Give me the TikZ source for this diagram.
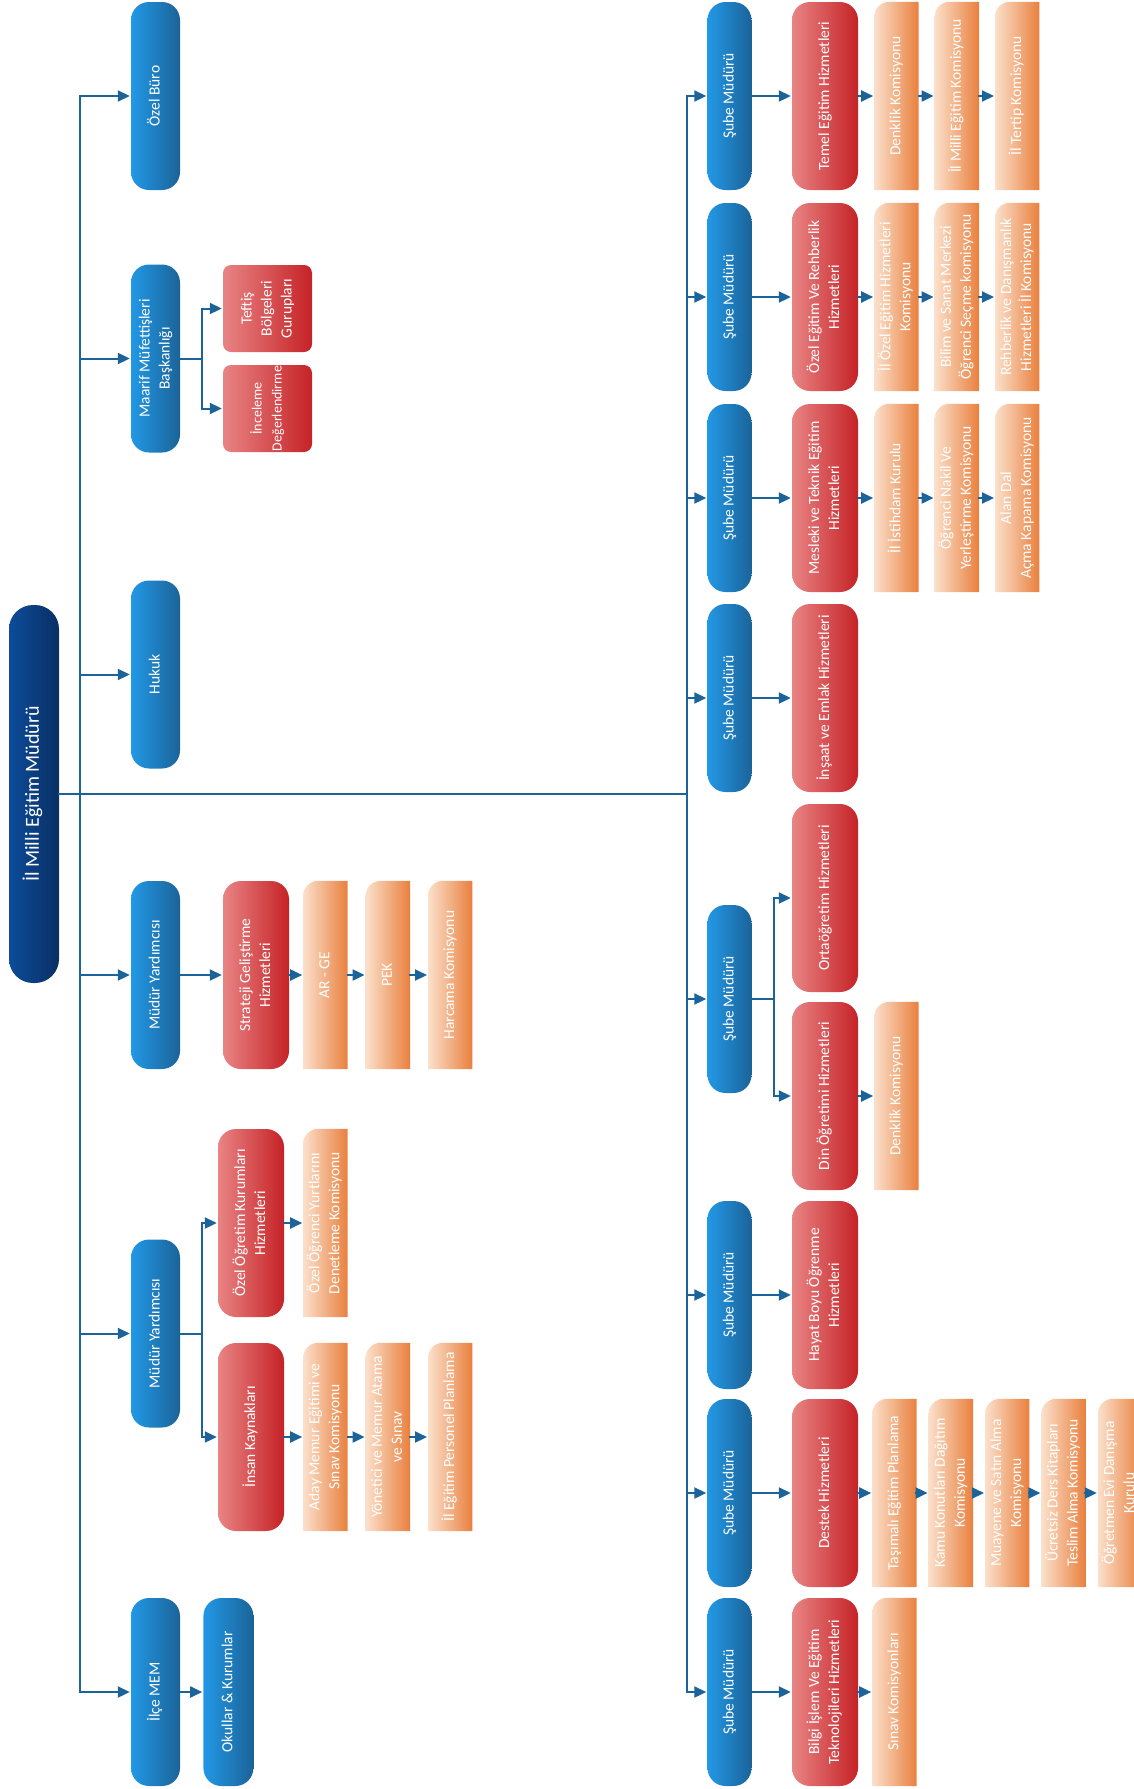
\documentclass[tikz,border=0pt]{standalone}
\usepackage{fontspec}
\setmainfont{Carlito}
\usepackage{graphicx}
\usetikzlibrary{arrows.meta,positioning,backgrounds}

\definecolor{mainL}{HTML}{0C4C9A}
\definecolor{mainR}{HTML}{0A2F63}
\definecolor{blueL}{HTML}{2298E6}
\definecolor{blueR}{HTML}{1B6398}
\definecolor{redL}{HTML}{E98484}
\definecolor{redR}{HTML}{C52226}
\definecolor{orangeL}{HTML}{FBE0CB}
\definecolor{orangeR}{HTML}{E9803E}
\definecolor{wireblue}{HTML}{1B6399}

% rotated, centred text for the upright boxes
\newcommand{\vt}[1]{\rotatebox{90}{\begin{tabular}{@{}c@{}}#1\end{tabular}}}

\tikzset{
  cell/.style={inner sep=0pt,text=white,font=\fontsize{15.5}{20}\selectfont},
  head box/.style={cell,rounded corners=24pt,left color=mainL,right color=mainR,
    minimum width=50pt,minimum height=378pt,font=\fontsize{20}{24}\selectfont},
  blue box/.style={cell,rounded corners=18pt,left color=blueL,right color=blueR,
    minimum width=49pt,minimum height=188pt},
  sube box/.style={blue box,minimum width=44pt},
  red box/.style={cell,rounded corners=18pt,left color=redL,right color=redR,
    minimum width=66pt,minimum height=188pt},
  small red/.style={red box,rounded corners=8pt,minimum width=89pt,minimum height=87pt},
  orange box/.style={cell,minimum width=44pt,minimum height=188pt},
  orange fill/.style={left color=orangeL,right color=orangeR},
  wire/.style={draw=wireblue,line width=2pt,line cap=rect},
  arrow wire/.style={wire,->,shorten >=1pt},
}

\begin{document}
\begin{tikzpicture}[x=1pt,y=-1pt,
  >={Triangle[length=12pt,width=11pt]}]
  \useasboundingbox (0,0) rectangle (1133,1789);
  % head and the two buses
  \node [head box] (head) at (34,794) {\vt{İl Milli Eğitim Müdürü}};
  \coordinate (lbus) at (80,794);
  \coordinate (rbus) at (687,794);

  % left column
  \node [blue box] (buro)   at (155.5,96)     {\vt{Özel Büro}};
  \node [blue box] (maarif) at (155.5,358.5)  {\vt{Maarif Müfettişleri\\Başkanlığı}};
  \node [blue box] (hukuk)  at (155.5,674.5)  {\vt{Hukuk}};
  \node [blue box] (myrd1)  at (155.5,975)    {\vt{Müdür Yardımcısı}};
  \node [blue box] (myrd2)  at (155.5,1333.5) {\vt{Müdür Yardımcısı}};
  \node [blue box] (ilce)   at (155.5,1692)   {\vt{İlçe MEM}};
  \node [blue box,minimum width=50pt] (okullar) [right=23pt of ilce] {\vt{Okullar \& Kurumlar}};

  \node [small red] (teftis)   at (267.5,308.5) {\vt{Teftiş\\Bölgeleri\\Gurupları}};
  \node [small red,font=\fontsize{14}{20}\selectfont] (inceleme) at (267.5,408.5)
    {\vt{İnceleme\\Değerlendirme}};

  \node [red box] (strateji) at (256,975) {\vt{Strateji Geliştirme\\Hizmetleri}};
  \node [orange box] (arge)    [right=14pt of strateji] {\vt{AR - GE}};
  \node [orange box] (pek)     [right=18pt of arge]     {\vt{PEK}};
  \node [orange box] (harcama) [right=18pt of pek]      {\vt{Harcama Komisyonu}};

  \node [red box] (ozelogr) at (251,1223) {\vt{Özel Öğretim Kurumları\\Hizmetleri}};
  \node [orange box] (yurt) [right=19pt of ozelogr] {\vt{Özel Öğrenci Yurtlarını\\Denetleme Komisyonu}};
  \node [red box] (insan) at (251,1437) {\vt{İnsan Kaynakları}};
  \node [orange box] (aday)     [right=19pt of insan]    {\vt{Aday Memur Eğitimi ve\\Sınav Komisyonu}};
  \node [orange box] (yonetici) [right=18pt of aday]     {\vt{Yönetici ve Memur Atama\\ve Sınav}};
  \node [orange box] (personel) [right=18pt of yonetici] {\vt{İl Eğitim Personel Planlama}};

  % right column
  \node [sube box] (sube1) at (729.5,96)   {\vt{Şube Müdürü}};
  \node [sube box] (sube2) at (729.5,297)  {\vt{Şube Müdürü}};
  \node [sube box] (sube3) at (729.5,498)  {\vt{Şube Müdürü}};
  \node [sube box] (sube4) at (729.5,698)  {\vt{Şube Müdürü}};
  \node [sube box] (sube5) at (729.5,999)  {\vt{Şube Müdürü}};
  \node [sube box] (sube6) at (729.5,1295) {\vt{Şube Müdürü}};
  \node [sube box] (sube7) at (729.5,1493) {\vt{Şube Müdürü}};
  \node [sube box] (sube8) at (729.5,1692) {\vt{Şube Müdürü}};

  \node [red box] (temel) at (825,96) {\vt{Temel Eğitim Hizmetleri}};
  \node [orange box] (denklik1) [right=16pt of temel]    {\vt{Denklik Komisyonu}};
  \node [orange box] (milli)    [right=16pt of denklik1] {\vt{İl Milli Eğitim Komisyonu}};
  \node [orange box] (tertip)   [right=16pt of milli]    {\vt{İl Tertip Komisyonu}};

  \node [red box] (ozelegt) at (825,297) {\vt{Özel Eğitim Ve Rehberlik\\Hizmetleri}};
  \node [orange box] (ozelkom)   [right=16pt of ozelegt] {\vt{İl Özel Eğitim Hizmetleri\\Komisyonu}};
  \node [orange box] (bilsem)    [right=16pt of ozelkom] {\vt{Bilim ve Sanat Merkezi\\Öğrenci Seçme komisyonu}};
  \node [orange box] (rehberlik) [right=16pt of bilsem]  {\vt{Rehberlik ve Danışmanlık\\Hizmetleri İl Komisyonu}};

  \node [red box] (mesleki) at (825,498) {\vt{Mesleki ve Teknik Eğitim\\Hizmetleri}};
  \node [orange box] (istihdam) [right=16pt of mesleki]  {\vt{İl İstihdam Kurulu}};
  \node [orange box] (nakil)    [right=16pt of istihdam] {\vt{Öğrenci Nakil Ve\\Yerleştirme Komisyonu}};
  \node [orange box] (alandal)  [right=16pt of nakil]    {\vt{Alan Dal\\Açma Kapama Komisyonu}};

  \node [red box] (insaat) at (825,698) {\vt{İnşaat ve Emlak Hizmetleri}};

  \node [red box] (ortaog) at (825,898)  {\vt{Ortaöğretim Hizmetleri}};
  \node [red box] (din)    at (825,1096) {\vt{Din Öğretimi Hizmetleri}};
  \node [orange box] (denklik2) [right=16pt of din] {\vt{Denklik Komisyonu}};

  \node [red box] (hayat) at (825,1295) {\vt{Hayat Boyu Öğrenme\\Hizmetleri}};

  \node [red box] (destek) at (825,1493) {\vt{Destek Hizmetleri}};
  \node [orange box] (tasimali) [right=14pt of destek]   {\vt{Taşımalı Eğitim Planlama}};
  \node [orange box] (kamu)     [right=12pt of tasimali] {\vt{Kamu Konutları Dağıtım\\Komisyonu}};
  \node [orange box] (muayene)  [right=12pt of kamu]     {\vt{Muayene ve Satın Alma\\Komisyonu}};
  \node [orange box] (ucretsiz) [right=12pt of muayene]  {\vt{Ücretsiz Ders Kitapları\\Teslim Alma Komisyonu}};
  \node [orange box] (ogretmen) [right=12pt of ucretsiz] {\vt{Öğretmen Evi Danışma\\Kurulu}};

  \node [red box] (bilgi) at (825,1692) {\vt{Bilgi İşlem Ve Eğitim\\Teknolojileri Hizmetleri}};
  \node [orange box] (sinav) [right=14pt of bilgi] {\vt{Sınav Komisyonları}};

  % orange boxes: only the top left corner is round
  \begin{scope}[on background layer]
    \foreach \n in {arge,pek,harcama,yurt,aday,yonetici,personel,denklik1,milli,tertip,
      ozelkom,bilsem,rehberlik,istihdam,nakil,alandal,denklik2,tasimali,kamu,muayene,
      ucretsiz,ogretmen,sinav}
      \shade [orange fill] (\n.west) [rounded corners=15pt] -- (\n.north west) -- (\n.north)
        [sharp corners] -- (\n.north east) -- (\n.south east) -- (\n.south west) -- cycle;
  \end{scope}

  % buses
  \draw [wire] (head) -- (rbus);
  \draw [wire] (lbus |- buro) -- (lbus |- ilce);
  \draw [wire] (rbus |- sube1) -- (rbus |- sube8);
  \foreach \n in {buro,maarif,hukuk,myrd1,myrd2,ilce}
    \draw [arrow wire] (lbus |- \n) -- (\n);
  \foreach \i in {1,...,8}
    \draw [arrow wire] (rbus |- sube\i) -- (sube\i);

  % forks
  \coordinate (mfork) at ([xshift=22pt]maarif.east);
  \coordinate (yfork) at ([xshift=22pt]myrd2.east);
  \coordinate (sfork) at ([xshift=22pt]sube5.east);
  \draw [wire] (maarif) -- (mfork);
  \draw [wire] (mfork |- teftis) -- (mfork |- inceleme);
  \draw [wire] (myrd2) -- (yfork);
  \draw [wire] (yfork |- ozelogr) -- (yfork |- insan);
  \draw [wire] (sube5) -- (sfork);
  \draw [wire] (sfork |- ortaog) -- (sfork |- din);
  \foreach \f/\n in {mfork/teftis,mfork/inceleme,yfork/ozelogr,yfork/insan,sfork/ortaog,sfork/din}
    \draw [arrow wire] (\f |- \n) -- (\n);

  % chains
  \foreach \a/\b in {ilce/okullar,myrd1/strateji,strateji/arge,arge/pek,pek/harcama,
    ozelogr/yurt,insan/aday,aday/yonetici,yonetici/personel,
    sube1/temel,temel/denklik1,denklik1/milli,milli/tertip,
    sube2/ozelegt,ozelegt/ozelkom,ozelkom/bilsem,bilsem/rehberlik,
    sube3/mesleki,mesleki/istihdam,istihdam/nakil,nakil/alandal,
    sube4/insaat,din/denklik2,sube6/hayat,
    sube7/destek,destek/tasimali,tasimali/kamu,kamu/muayene,muayene/ucretsiz,ucretsiz/ogretmen,
    sube8/bilgi,bilgi/sinav}
    \draw [arrow wire] (\a) -- (\b);
\end{tikzpicture}
\end{document}
